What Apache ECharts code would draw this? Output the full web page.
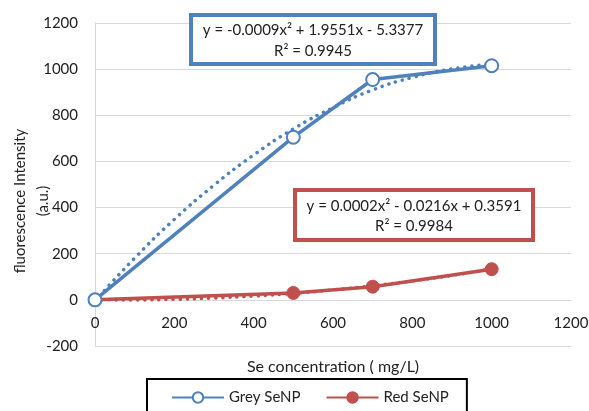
<!DOCTYPE html>
<html>
<head>
<meta charset="utf-8">
<script src="https://cdn.jsdelivr.net/npm/echarts@6/dist/echarts.min.js"></script>
<style>html,body{margin:0;padding:0;background:#fff}#c{width:589px;height:411px}</style>
</head>
<body>
<div id="c"></div>
<script>
// Data
const concentrations = [0, 500, 700, 1000];
const greyValues = [0, 705, 955, 1015];
const redValues = [0, 30, 57, 133];
// Dotted polynomial trendlines as they appear in the picture
const trendX = [0, 100, 200, 300, 400, 500, 600, 700, 800, 900, 1000];
const greyTrend = [-5, 181, 349, 497, 628, 741, 833, 910, 964, 1001, 1022];
const redTrend = [0.4, -0.3, 2.2, 7.8, 16.5, 28, 43, 61, 82, 106, 134];
const xTicks = {min: 0, max: 1200, interval: 200};
const yTicks = {min: -200, max: 1200, interval: 200};
const greyEq = ['y = -0.0009x² + 1.9551x - 5.3377', 'R² = 0.9945'];
const redEq = ['y = 0.0002x² - 0.0216x + 0.3591', 'R² = 0.9984'];

const BLUE = '#4F81BD', RED = '#C0504D';
const FONT = 'Lato';
const zip = (xs, ys) => xs.map((x, i) => [x, ys[i]]);

const chart = echarts.init(document.getElementById('c'), null, {renderer: 'canvas'});
const gridTop = 23, gridBottom = 65, H = 411;
const zeroOffset = -(H - gridTop - gridBottom) * (0 - yTicks.min) / (yTicks.max - yTicks.min);
chart.setOption({
  animation: false,
  textStyle: {fontFamily: FONT},
  grid: {left: 95, right: 18, top: gridTop, bottom: gridBottom, containLabel: false, outerBoundsMode: 'none'},
  xAxis: {
    type: 'value', min: xTicks.min, max: xTicks.max, interval: xTicks.interval,
    offset: zeroOffset,
    axisLine: {show: true, onZero: false, lineStyle: {color: '#D9D9D9', width: 1}},
    axisTick: {show: false},
    axisLabel: {color: '#222', fontSize: 15, fontFamily: FONT, margin: 16, formatter: v => String(v)},
    splitLine: {show: false},
    name: 'Se concentration ( mg/L)', nameLocation: 'middle', nameGap: 59,
    nameTextStyle: {color: '#222', fontSize: 16, fontFamily: FONT}
  },
  yAxis: {
    type: 'value', min: yTicks.min, max: yTicks.max, interval: yTicks.interval,
    axisLine: {show: true, lineStyle: {color: '#D9D9D9', width: 1}},
    axisTick: {show: false},
    axisLabel: {color: '#222', fontSize: 15, fontFamily: FONT, margin: 17, formatter: v => String(v)},
    splitLine: {show: true, lineStyle: {color: '#D9D9D9', width: 1}}
  },
  legend: {
    data: ['Grey SeNP', 'Red SeNP'],
    left: 147, top: 379,
    padding: [11, 18, 30, 24],
    borderColor: '#000', borderWidth: 2,
    itemWidth: 52, itemHeight: 13, itemGap: 25,
    textStyle: {color: '#222', fontSize: 15, fontFamily: FONT}
  },
  series: [
    {name: 'greyTrend', type: 'line', data: zip(trendX, greyTrend), smooth: true, showSymbol: false, silent: true,
      lineStyle: {color: BLUE, width: 3.5, type: [0.1, 7], cap: 'round'}, z: 1},
    {name: 'redTrend', type: 'line', data: zip(trendX, redTrend), smooth: true, showSymbol: false, silent: true,
      lineStyle: {color: RED, width: 3.5, type: [0.1, 7], cap: 'round'}, z: 1},
    {name: 'Grey SeNP', type: 'line', data: zip(concentrations, greyValues),
      symbol: 'circle', symbolSize: 13,
      lineStyle: {color: BLUE, width: 3.5},
      itemStyle: {color: '#fff', borderColor: BLUE, borderWidth: 2}, z: 3},
    {name: 'Red SeNP', type: 'line', data: zip(concentrations, redValues),
      symbol: 'circle', symbolSize: 13,
      lineStyle: {color: RED, width: 3.5},
      itemStyle: {color: RED, borderColor: RED, borderWidth: 1}, z: 2}
  ],
  graphic: [
    {type: 'rect', shape: {x: 191, y: 15, width: 244, height: 49},
      style: {fill: '#fff', stroke: BLUE, lineWidth: 4}, z: 100},
    {type: 'text', x: 313, y: 41, z: 101,
      style: {text: greyEq.join('\n'), fill: '#222', font: '15px ' + FONT, align: 'center', verticalAlign: 'middle', lineHeight: 21}},
    {type: 'rect', shape: {x: 295, y: 190, width: 238, height: 50},
      style: {fill: '#fff', stroke: RED, lineWidth: 4}, z: 100},
    {type: 'text', x: 414, y: 216, z: 101,
      style: {text: redEq.join('\n'), fill: '#222', font: '15px ' + FONT, align: 'center', verticalAlign: 'middle', lineHeight: 20}},
    {type: 'text', x: 32, y: 201, rotation: Math.PI / 2, z: 101,
      style: {text: 'fluorescence Intensity\n(a.u.)', fill: '#222', font: '15px ' + FONT, align: 'center', verticalAlign: 'middle', lineHeight: 23}}
  ]
});
</script>
</body>
</html>
